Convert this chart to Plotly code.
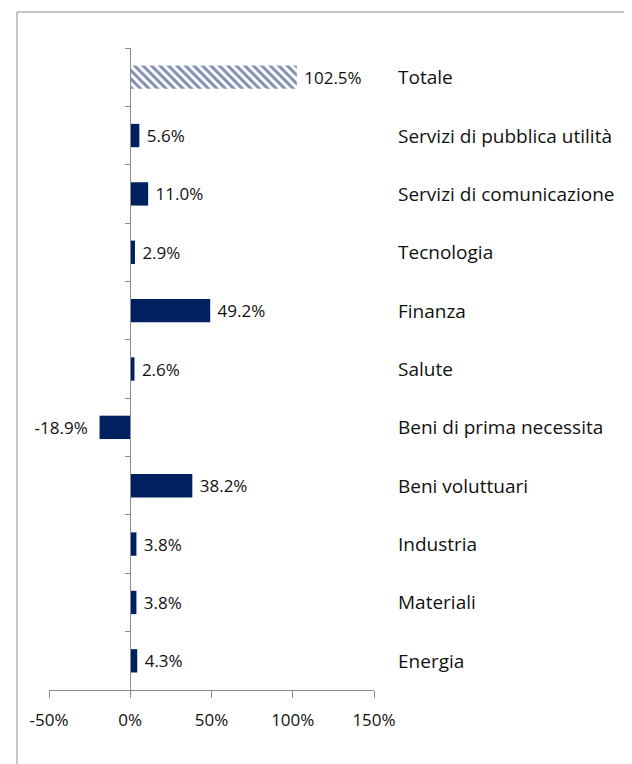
import plotly.graph_objects as go

categories = ["Energia", "Materiali", "Industria", "Beni voluttuari", "Beni di prima necessita",
              "Salute", "Finanza", "Tecnologia", "Servizi di comunicazione",
              "Servizi di pubblica utilità", "Totale"]
values = [4.3, 3.8, 3.8, 38.2, -18.9, 2.6, 49.2, 2.9, 11.0, 5.6, 102.5]
tick_vals = [-50, 0, 50, 100, 150]
tick_text = ["-50%", "0%", "50%", "100%", "150%"]

NAVY = "#002060"
FONT = "Open Sans"
OFF = 8  # browser body margin
W, H = 632 - OFF, 764 - OFF
L, T = 49 - OFF, 48 - OFF
R = W - (374 - OFF)
B = H - (690 - OFF)
pw = W - L - R
ph = H - T - B

patterns = ["" if c != "Totale" else "\\" for c in categories]
labels = [(f" {v:.1f}%" if v >= 0 else f"{v:.1f}%  ") for v in values]

fig = go.Figure()
fig.add_trace(go.Bar(
    y=categories, x=values, orientation="h",
    marker=dict(color=NAVY, line=dict(width=0),
                pattern=dict(shape=patterns, fgcolor=NAVY, bgcolor="white",
                             size=6, solidity=0.5)),
    text=labels, textposition="outside",
    textfont=dict(family=FONT, size=17, color="#111111"),
    cliponaxis=False, width=0.4,
))

for c in categories:
    fig.add_annotation(x=(396 - 49) / pw, xref="paper", y=c, yref="y",
                       text=c, showarrow=False, xanchor="left",
                       font=dict(family=FONT, size=19, color="#111111"))

fig.add_shape(type="rect", xref="paper", yref="paper",
              x0=(17 - 49) / pw, x1=(W + 10 - L) / pw,
              y0=-(H + 10 - T - ph) / ph, y1=1 + (48 - 12) / ph,
              line=dict(color="#8c8c8c", width=1), layer="below")

fig.update_layout(
    width=W, height=H, margin=dict(l=L, r=R, t=T, b=B, autoexpand=False),
    paper_bgcolor="white", plot_bgcolor="white", showlegend=False,
    font=dict(family=FONT, size=17, color="#111111"),
    xaxis=dict(range=[-50, 150], tickvals=tick_vals, ticktext=tick_text,
               showgrid=False, zeroline=False, showline=True, linecolor="#8c8c8c",
               ticks="outside", ticklen=7, tickcolor="#8c8c8c", automargin=False,
               ticklabelstandoff=8,
               tickfont=dict(family=FONT, size=17, color="#111111")),
    yaxis=dict(categoryorder="array", categoryarray=categories,
               anchor="free", position=0.25, showgrid=False, zeroline=False,
               showline=True, linecolor="#8c8c8c", ticks="outside", ticklen=5,
               tickcolor="#8c8c8c", tickson="boundaries", showticklabels=False,
               automargin=False),
)

fig.write_html("out.html")
